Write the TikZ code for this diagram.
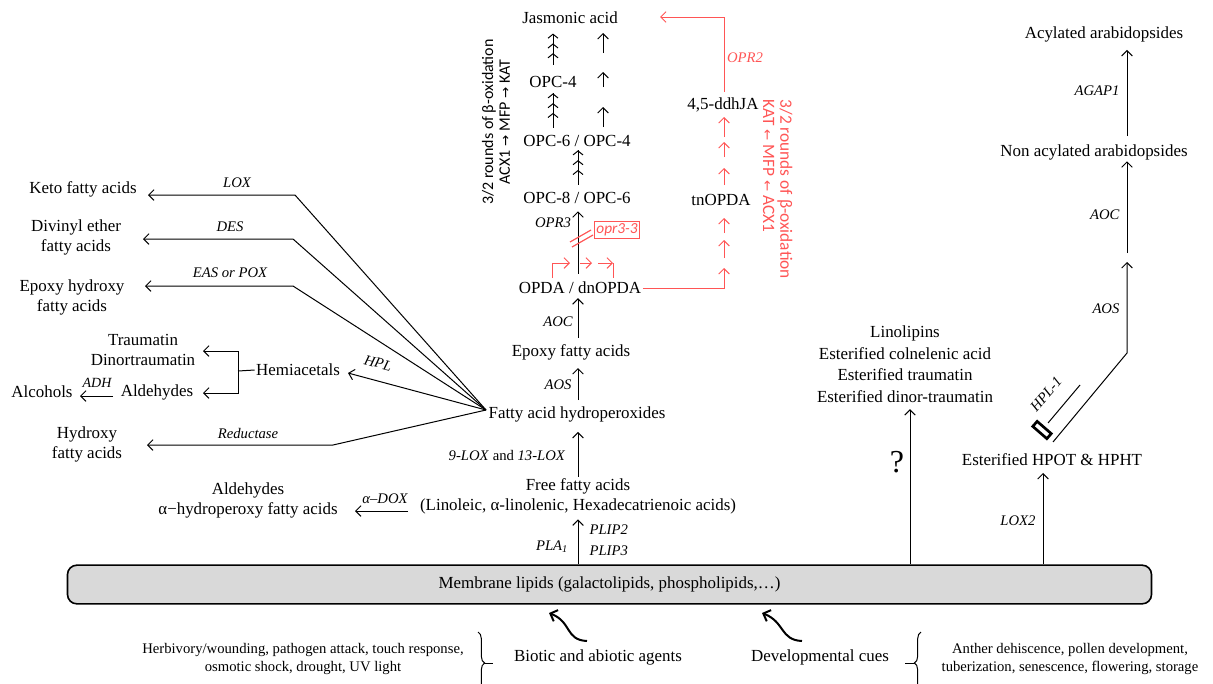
\documentclass[tikz,border=0pt]{standalone}
\usepackage{fontspec}
\setmainfont{Liberation Serif}
\newfontfamily\carl{Carlito}
\newfontfamily\djv{DejaVu Sans}
\usetikzlibrary{arrows.meta,decorations.pathreplacing,calc}
\definecolor{rd}{RGB}{255,85,85}
\definecolor{memfill}{RGB}{217,217,217}
\newcommand{\myra}{{\djv\fontsize{10}{10}\selectfont →}}
\newcommand{\myla}{{\djv\fontsize{10}{10}\selectfont ←}}
\begin{document}
\begin{tikzpicture}[x=0.75pt,y=-0.75pt,
 txt/.style={font=\fontsize{12.7}{15}\selectfont,inner sep=1pt,align=center},
 lab/.style={font=\fontsize{11}{12}\selectfont\itshape,inner sep=1pt,align=left},
 small/.style={font=\fontsize{11}{13.5}\selectfont,inner sep=1pt,align=center},
 bsans/.style={font=\carl\fontsize{12}{12.5}\selectfont,inner sep=1pt},
 arr/.style={-{Straight Barb[length=4pt,width=8pt]},line width=0.75pt},
 tri/.style={-{Straight Barb[length=3pt,width=7.5pt,sep=3.5pt]Straight Barb[length=3pt,width=7.5pt,sep=3.5pt]Straight Barb[length=3pt,width=7.5pt]},line width=0.75pt,postaction={draw,-}},
 ln/.style={line width=0.75pt},
 curv/.style={-{Straight Barb[length=4.5pt,width=9pt]},line width=1.5pt},
]
\useasboundingbox (0,0) rectangle (1213,683);
\coordinate (cM) at (578,0);
\coordinate (cL) at (553,0);
\coordinate (cR) at (603,0);
\coordinate (cRed) at (724,0);

% ---------- main column
\node[txt] (ja) at (570,18) {Jasmonic acid};
\node[txt] (opc4) at (553,82) {OPC-4};
\node[txt] (opc64) at (577,141) {OPC-6 / OPC-4};
\node[txt] (opc86) at (577,198) {OPC-8 / OPC-6};
\node[txt] (opda) at (580,288) {OPDA / dnOPDA};
\node[txt] (epx) at (571,352) {Epoxy fatty acids};
\node[txt] (fah) at (577,414) {Fatty acid hydroperoxides};
\node[txt] (ffa) at (578,496) {Free fatty acids\\(Linoleic, α-linolenic, Hexadecatrienoic acids)};
\node[txt,draw,line width=1.2pt,fill=memfill,rounded corners=7pt,minimum width=813pt,minimum height=29pt] (mem) at (609.5,584.5) {Membrane lipids (galactolipids, phospholipids,…)};

\draw[arr,shorten >=3pt] (mem.north -| cM) -- (ffa.south -| cM);
\draw[arr,shorten >=6.5pt] (ffa.north -| cM) -- (fah.south -| cM);
\draw[arr,shorten <=3.5pt,shorten >=5pt] (fah.north -| cM) -- (epx.south -| cM);
\draw[arr,shorten <=3.5pt,shorten >=2pt] (epx.north -| cM) -- (opda.south -| cM);
\draw[arr,shorten <=5pt,shorten >=4.5pt] (opda.north -| cM) -- (opc86.south -| cM);
\draw[tri,shorten <=4.5pt,shorten >=1.5pt] (opc86.north -| cM) -- (opc64.south -| cM);
\draw[tri,shorten <=4.5pt,shorten >=3pt] (opc64.north -| cL) -- (opc4.south -| cL);
\draw[tri,shorten <=7.5pt,shorten >=6pt] (opc4.north -| cL) -- (ja.south -| cL);
\coordinate (r1a) at (603,127); \coordinate (r1b) at (603,107);
\coordinate (r2a) at (603,87);  \coordinate (r2b) at (603,72);
\coordinate (r3a) at (603,53);  \coordinate (r3b) at (603,33);
\draw[arr] (r1a) -- (r1b);
\draw[arr] (r2a) -- (r2b);
\draw[arr] (r3a) -- (r3b);

\node[lab] (lOPR3) at (553,223) {OPR3};
\node[lab] (lAOC) at (558,322) {AOC};
\node[lab] (lAOS) at (558,385) {AOS};
\node[lab,font=\fontsize{11}{12}\selectfont] (lLOX9) at (507,455) {\textit{9-LOX} and \textit{13-LOX}};
\node[lab] (lPLA) at (552,547) {PLA\textsubscript{1}};
\node[lab,anchor=west,font=\fontsize{11}{16}\selectfont\itshape] (lPLIP) at (588,540) {PLIP2\\PLIP3};

\node[bsans,rotate=90,align=center] (bbox) at (496,122) {3/2 rounds of β-oxidation\\ACX1 \myra{} MFP \myra{} KAT};

% ---------- red branch
\node[txt] (tn) at (721,200) {tnOPDA};
\node[txt] (ddh) at (723,105) {4,5-ddhJA};
\begin{scope}[rd]
\coordinate (p1) at (552,278); \coordinate (p2) at (570,263);
\coordinate (p3) at (580,263); \coordinate (p4) at (592,263);
\coordinate (p5) at (598,263); \coordinate (p6) at (613,263);
\coordinate (p7) at (613,278);
\draw[arr] (p1) |- (p2);
\draw[arr] (p3) -- (p4);
\draw[arr] (p5) -- (p6);
\draw[ln] (p6) -- (p7);
\draw[line width=0.9pt] (570,242) -- (591,230);
\draw[line width=0.9pt] (572,247) -- (593,235);
\node[draw=rd,text=rd,font=\carl\itshape\fontsize{11.5}{12}\selectfont,inner sep=1.5pt,line width=0.75pt] (opr33) at (617,230) {opr3-3};
\coordinate (t1) at (724,268);
\draw[arr] (opda.east) -| (t1);
\draw[arr] (724,258) -- (724,240);
\draw[arr] (724,233) -- (724,218);
\draw[arr] (724,185) -- (724,168);
\draw[arr] (724,157) -- (724,142);
\draw[arr] (724,137) -- (724,117);
\coordinate (jaR) at (660,17);
\draw[arr,shorten <=3pt] (ddh.north -| cRed) |- (jaR);
\node[lab,text=rd] (lOPR2) at (745,58) {OPR2};
\node[bsans,font=\carl\fontsize{13}{13}\selectfont,rotate=-90,text=rd,align=left,anchor=north west] (rbox) at (794,98) {3/2 rounds of β-oxidation\\KAT \myla{} MFP \myla{} ACX1};
\end{scope}

% ---------- left fan
\coordinate (fp) at (486,410);
\node[txt] (keto) at (83,189) {Keto fatty acids};
\node[txt] (div) at (76,237) {Divinyl ether\\fatty acids};
\node[txt] (eph) at (72,297) {Epoxy hydroxy\\fatty acids};
\node[txt] (trau) at (143,350) {Traumatin\\Dinortraumatin};
\node[txt] (hemi) at (298,370) {Hemiacetals};
\node[txt] (ald) at (157,392) {Aldehydes};
\node[txt] (alc) at (42,392) {Alcohols};
\node[txt] (hyd) at (87,444) {Hydroxy\\fatty acids};
\node[txt] (ald2) at (248,500) {Aldehydes\\α−hydroperoxy fatty acids};

\draw[arr] (fp) -- (295,195) -- (148,195);
\draw[arr] (fp) -- (293,239) -- (143,239);
\draw[arr] (fp) -- (293,286) -- (145,286);
\draw[arr] (fp) -- (348,373);
\draw[arr] (fp) -- (333,445) -- (147,445);
\node[lab] (lLOX) at (237,183) {LOX};
\node[lab] (lDES) at (230,227) {DES};
\node[lab] (lEAS) at (230,273) {EAS or POX};
\node[lab,rotate=-15] (lHPL) at (378,363) {HPL};
\node[lab] (lRed) at (248,433) {Reductase};

\coordinate (hb) at (238,371);
\draw[ln] (hemi.west) -- (hb);
\draw[arr] (hb) |- (203,351);
\draw[arr] (hb) |- (203,393);
\draw[arr] (113,396) -- (80,396);
\node[lab,font=\fontsize{10.5}{11}\selectfont\itshape] (lADH) at (97,383) {ADH};
\draw[arr] (408,511) -- (355,511);
\node[lab] (lDOX) at (385,499) {α–DOX};

% ---------- right side
\node[txt,font=\fontsize{12.7}{16.1}\selectfont] (lino) at (905,364) {Linolipins\\Esterified colnelenic acid\\Esterified traumatin\\Esterified dinor-traumatin};
\coordinate (cQ) at (910,0);
\draw[arr,shorten >=4pt] (mem.north -| cQ) -- (lino.south -| cQ);
\node[font=\fontsize{24}{24}\selectfont] (q) at (897,462) {?};
\node[txt] (hpot) at (1052,460) {Esterified HPOT \& HPHT};
\coordinate (cX) at (1043,0);
\draw[arr,shorten >=4pt] (mem.north -| cX) -- (hpot.south -| cX);
\node[lab] (lLOX2) at (1018,521) {LOX2};
\coordinate (d1) at (1053,442); \coordinate (d2) at (1127,353);
\coordinate (cA) at (1127,0);
\node[txt] (nonac) at (1094,152) {Non acylated arabidopsides};
\node[txt] (acyl) at (1104,34) {Acylated arabidopsides};
\draw[arr] (d1) -- (d2) -- (1127,262);
\node[lab,anchor=east] (lAOS2) at (1121,309) {AOS};
\coordinate (h1) at (1080,385); \coordinate (h2) at (1048,423);
\draw[ln] (h1) -- (h2);
\node[draw,line width=2pt,fill=white,minimum width=14pt,minimum height=5pt,inner sep=0pt,rotate=-41] (bar) at (1042,430) {};
\node[lab,rotate=49] (lHPL1) at (1046,394) {HPL-1};
\draw[arr] (1127,253) -- (nonac.south -| cA);
\node[lab,anchor=east] (lAOC2) at (1121,215) {AOC};
\draw[arr,shorten <=5pt,shorten >=5pt] (nonac.north -| cA) -- (acyl.south -| cA);
\node[lab,anchor=east] (lAGAP) at (1121,91) {AGAP1};

% ---------- bottom
\node[small] (env) at (303,659) {Herbivory/wounding, pathogen attack, touch response,\\osmotic shock, drought, UV light};
\draw[ln,decorate,decoration={brace,amplitude=5pt}] (478,632) -- (478,694);
\draw[ln] (484,663) -- (493,663);
\node[txt] (bio) at (598,657) {Biotic and abiotic agents};
\draw[curv] (587,641) .. controls (565,640) and (572,622) .. (549,613);
\node[txt] (dev) at (820,657) {Developmental cues};
\draw[curv] (802,641) .. controls (780,640) and (785,622) .. (762,613);
\draw[ln,decorate,decoration={brace,amplitude=5pt}] (921,694) -- (921,632);
\draw[ln] (905,663) -- (915,663);
\node[small] (anth) at (1070,659) {Anther dehiscence, pollen development,\\tuberization, senescence, flowering, storage};
\end{tikzpicture}
\end{document}
